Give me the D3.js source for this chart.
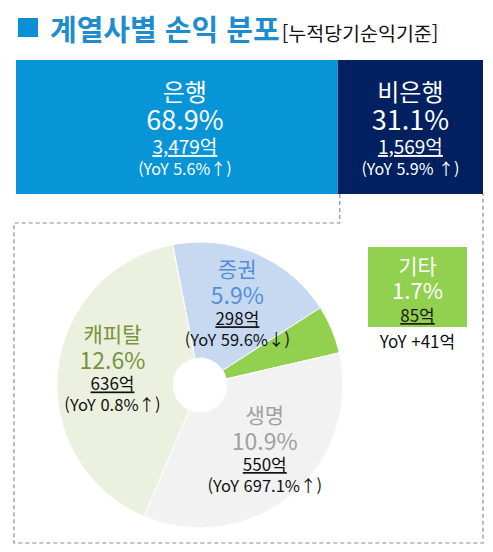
<!DOCTYPE html>
<html lang="ko">
<head>
<meta charset="utf-8">
<script src="https://cdn.jsdelivr.net/npm/d3@7"></script>
<style>
  html, body { margin: 0; padding: 0; background: #fff; }
  svg { display: block; font-family: "Noto Sans CJK KR", "Noto Sans", sans-serif; }
</style>
</head>
<body>
<div id="chart"></div>
<script>
// 계열사별 손익 분포 (누적 당기순익 기준)

// 은행 / 비은행
const groupNames = ["은행", "비은행"];
const groupShare = [68.9, 31.1];
const groupAmount = [3479, 1569];
const groupYoY = ["(YoY 5.6%↑)", "(YoY 5.9% ↑)"];

// 비은행 계열사
const segNames = ["증권", "기타", "생명", "캐피탈"];
const segShare = [5.9, 1.7, 10.9, 12.6];
const segAmount = [298, 85, 550, 636];
const segYoY = ["(YoY 59.6%↓)", "YoY +41억", "(YoY 697.1%↑)", "(YoY 0.8%↑)"];

const W = 493, H = 552;
const fmtAmt = d => d3.format(",")(d) + "억";
const fmtPct = d => d.toFixed(1) + "%";

const svg = d3.select("#chart").append("svg")
    .attr("width", W)
    .attr("height", H);

// 제목
svg.append("rect")
    .attr("x", 18).attr("y", 18)
    .attr("width", 20).attr("height", 19)
    .attr("fill", "#0b8fd6");

const title = svg.append("text")
    .attr("x", 50).attr("y", 41)
    .attr("fill", "#1f8ccd");
title.append("tspan")
    .attr("font-size", 29)
    .attr("font-weight", "bold")
    .text("계열사별 손익 분포");
title.append("tspan")
    .attr("font-size", 19.5)
    .attr("fill", "#111")
    .attr("dx", 2)
    .text("[누적당기순익기준]");

// 상단 막대: 은행 vs 비은행
const x = d3.scaleLinear()
    .domain([0, d3.sum(groupShare)])
    .range([16, 483]);
const groupStart = d3.cumsum([0, ...groupShare]);
const groupColor = ["#0795d8", "#002060"];
const barTop = 60, barBottom = 194;

groupNames.forEach((name, i) => {
    const x0 = x(groupStart[i]), x1 = x(groupStart[i + 1]);
    svg.append("rect")
        .attr("x", x0).attr("y", barTop)
        .attr("width", x1 - x0).attr("height", barBottom - barTop)
        .attr("fill", groupColor[i]);

    const cx = i === 0 ? (x0 + x1) / 2 + 8 : (x0 + x1) / 2;
    const g = svg.append("g")
        .attr("fill", "#fff")
        .attr("text-anchor", "middle");
    g.append("text").attr("x", cx).attr("y", 101).attr("font-size", 24).text(name);
    g.append("text").attr("x", cx).attr("y", 130).attr("font-size", 27).text(fmtPct(groupShare[i]));
    g.append("text").attr("x", cx).attr("y", 154).attr("font-size", 19)
        .attr("text-decoration", "underline").text(fmtAmt(groupAmount[i]));
    g.append("text").attr("x", cx).attr("y", 175).attr("font-size", 16).text(groupYoY[i]);
});

// 점선 테두리 (비은행 상세)
const xSplit = x(groupStart[1]) + 2;
svg.append("path")
    .attr("d", d3.line()([
        [xSplit, barBottom], [xSplit, 223], [14, 223], [14, 543],
        [483, 543], [483, barBottom]
    ]))
    .attr("fill", "none")
    .attr("stroke", "#8c8c8c")
    .attr("stroke-width", 1.2)
    .attr("stroke-dasharray", "4,3");

// 파이 차트
const segColor = ["#c6d9f1", "#92d050", "#f2f2f2", "#ebf1de"];
const labelColor = ["#558ed5", "#fff", "#a0a0a0", "#77933c"];
const cx = 200, cy = 385, radius = 143, hole = 27;
const a0 = -11 * Math.PI / 180;

const pie = d3.pie()
    .sort(null)
    .startAngle(a0)
    .endAngle(a0 + 2 * Math.PI)
    .value(d => d.share);

const arc = d3.arc().innerRadius(hole).outerRadius(radius);
const labelArc = d3.arc().innerRadius(90).outerRadius(90);

const segData = segNames.map((name, i) => ({
    name, share: segShare[i], amount: segAmount[i], yoy: segYoY[i], i
}));
const arcs = pie(segData);

const pieG = svg.append("g").attr("transform", `translate(${cx},${cy})`);
pieG.selectAll("path")
    .data(arcs)
    .join("path")
    .attr("d", arc)
    .attr("fill", d => segColor[d.data.i])
    .attr("stroke", "#fff")
    .attr("stroke-width", 1);

// 라벨 미세 조정 (px)
const nudge = { "증권": [2, 0], "생명": [7, -6], "캐피탈": [2, -8] };

function drawBlock(g, d, cxL, cyL, nameColor) {
    const t = g.append("g").attr("text-anchor", "middle");
    t.append("text").attr("x", cxL).attr("y", cyL - 25).attr("font-size", 21)
        .attr("fill", nameColor).text(d.name);
    t.append("text").attr("x", cxL).attr("y", cyL + 2).attr("font-size", 23)
        .attr("fill", nameColor).text(fmtPct(d.share));
    t.append("text").attr("x", cxL).attr("y", cyL + 23).attr("font-size", 17)
        .attr("fill", "#111").attr("text-decoration", "underline").text(fmtAmt(d.amount));
    t.append("text").attr("x", cxL).attr("y", cyL + 44).attr("font-size", 16.5)
        .attr("fill", "#111").text(d.yoy);
}

arcs.forEach(d => {
    if (d.data.name === "기타") return;
    const [lx, ly] = labelArc.centroid(d);
    const [nx, ny] = nudge[d.data.name] || [0, 0];
    drawBlock(pieG, d.data, lx + nx, ly + ny, labelColor[d.data.i]);
});

// 기타: 작은 조각이라 우측 박스로 표시
const etc = segData.find(d => d.name === "기타");
const bx = 368, by = 247, bw = 99, bh = 80;
svg.append("rect")
    .attr("x", bx).attr("y", by)
    .attr("width", bw).attr("height", bh)
    .attr("fill", segColor[etc.i]);
const ex = bx + bw / 2;
const eg = svg.append("g").attr("text-anchor", "middle");
eg.append("text").attr("x", ex).attr("y", 274).attr("font-size", 21)
    .attr("fill", "#fff").text(etc.name);
eg.append("text").attr("x", ex).attr("y", 299).attr("font-size", 22)
    .attr("fill", "#fff").text(fmtPct(etc.share));
eg.append("text").attr("x", ex).attr("y", 322).attr("font-size", 17)
    .attr("fill", "#1a1a1a").attr("text-decoration", "underline").text(fmtAmt(etc.amount));
eg.append("text").attr("x", ex).attr("y", 348).attr("font-size", 17)
    .attr("fill", "#111").text(etc.yoy);
</script>
</body>
</html>
